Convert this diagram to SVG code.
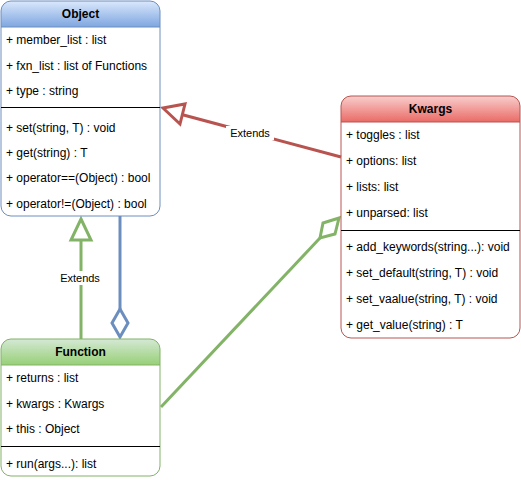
<svg xmlns="http://www.w3.org/2000/svg" width="521" height="480" viewBox="0 0 521 480">
<defs>
<linearGradient id="gb" x1="0" y1="0" x2="0" y2="1"><stop offset="0" stop-color="#dae8fc"/><stop offset="1" stop-color="#7ea6e0"/></linearGradient>
<linearGradient id="gr" x1="0" y1="0" x2="0" y2="1"><stop offset="0" stop-color="#f8cecc"/><stop offset="1" stop-color="#ea6b66"/></linearGradient>
<linearGradient id="gg" x1="0" y1="0" x2="0" y2="1"><stop offset="0" stop-color="#d5e8d4"/><stop offset="1" stop-color="#97d077"/></linearGradient>
</defs>
<style>
text{font-family:"Liberation Sans",Arial,sans-serif;font-size:12px;fill:#000}
.h{font-weight:bold;font-size:12px;text-anchor:middle}
.sep{stroke:#000;stroke-width:1}
.lbl{text-anchor:middle;font-size:11px}
</style>
<rect width="521" height="480" fill="#fff"/>
<g id="connectors" fill="none" stroke-width="3">
<line x1="341" y1="157" x2="176" y2="113" stroke="#b85450"/>
<polygon points="163,108 185,104 180,124" fill="#fff" stroke="#b85450"/>
<rect x="226" y="126" width="48" height="14" fill="#fff" stroke="none"/>
<line x1="81" y1="339" x2="81" y2="240" stroke="#82b366"/>
<polygon points="81,219 91,240 71,240" fill="#fff" stroke="#82b366"/>
<rect x="58" y="271" width="44" height="14" fill="#fff" stroke="none"/>
<line x1="120" y1="216" x2="120" y2="309" stroke="#6c8ebf"/>
<polygon points="120,309 128,323 120,337 112,323" fill="#fff" stroke="#6c8ebf"/>
<line x1="161" y1="407" x2="320" y2="238" stroke="#82b366"/>
<polygon points="320,238 323,223 339,218 335,234" fill="#fff" stroke="#82b366"/>
</g>
<g id="labels">
<text class="lbl" x="250" y="137">Extends</text>
<text class="lbl" x="80" y="282">Extends</text>
</g>
<g id="Object">
<path d="M1,27 V11 A10,10 0 0 1 11,1 H150 A10,10 0 0 1 160,11 V27 Z" fill="url(#gb)"/>
<rect x="1" y="1" width="159" height="215" rx="10" fill="none" stroke="#6c8ebf"/>
<line x1="1" y1="27" x2="160" y2="27" stroke="#6c8ebf"/>
<text class="h" x="80.5" y="18">Object</text>
<text x="6" y="44">+ member_list : list</text>
<text x="6" y="70">+ fxn_list : list of Functions</text>
<text x="6" y="95">+ type : string</text>
<line class="sep" x1="1" y1="107.5" x2="160" y2="107.5"/>
<text x="6" y="132">+ set(string, T) : void</text>
<text x="6" y="157">+ get(string) : T</text>
<text x="6" y="182">+ operator==(Object) : bool</text>
<text x="6" y="208">+ operator!=(Object) : bool</text>
</g>
<g id="Kwargs">
<path d="M341,122 V106 A10,10 0 0 1 351,96 H510 A10,10 0 0 1 520,106 V122 Z" fill="url(#gr)"/>
<rect x="341" y="96" width="179" height="242" rx="10" fill="none" stroke="#b85450"/>
<line x1="341" y1="122" x2="520" y2="122" stroke="#b85450"/>
<text class="h" x="430.5" y="113">Kwargs</text>
<text x="346" y="139">+ toggles : list</text>
<text x="346" y="165">+ options: list</text>
<text x="346" y="191">+ lists: list</text>
<text x="346" y="217">+ unparsed: list</text>
<line class="sep" x1="341" y1="230.5" x2="520" y2="230.5"/>
<text x="346" y="251">+ add_keywords(string...): void</text>
<text x="346" y="277">+ set_default(string, T) : void</text>
<text x="346" y="303">+ set_vaalue(string, T) : void</text>
<text x="346" y="329">+ get_value(string) : T</text>
</g>
<g id="Function">
<path d="M1,365 V349 A10,10 0 0 1 11,339 H150 A10,10 0 0 1 160,349 V365 Z" fill="url(#gg)"/>
<rect x="1" y="339" width="159" height="137" rx="10" fill="none" stroke="#82b366"/>
<line x1="1" y1="365" x2="160" y2="365" stroke="#82b366"/>
<text class="h" x="80.5" y="356">Function</text>
<text x="6" y="382">+ returns : list</text>
<text x="6" y="408">+ kwargs : Kwargs</text>
<text x="6" y="433">+ this : Object</text>
<line class="sep" x1="1" y1="446.5" x2="160" y2="446.5"/>
<text x="6" y="468">+ run(args...): list</text>
</g>
</svg>
